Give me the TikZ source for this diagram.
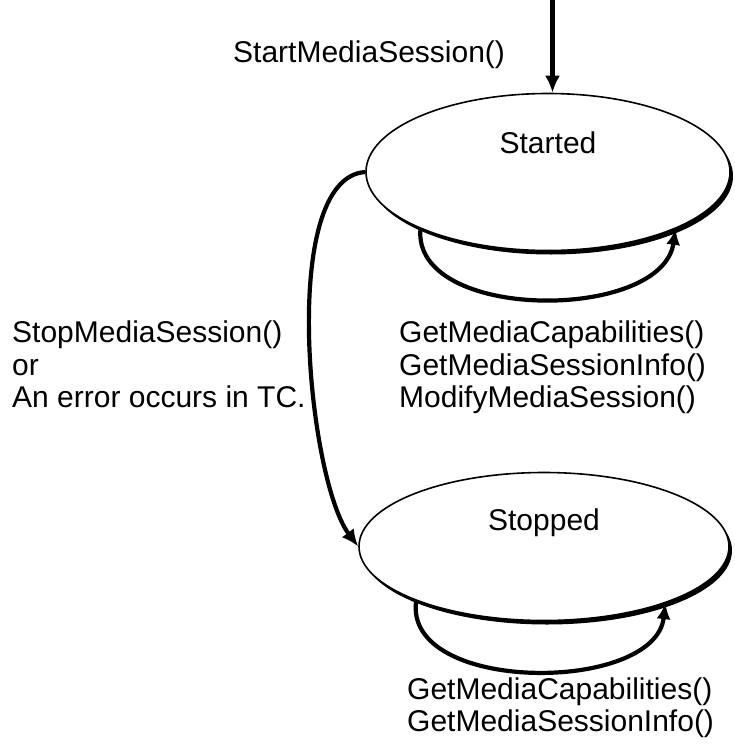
\documentclass[tikz,border=0pt]{standalone}
\usepackage{fontspec}
\setmainfont{Liberation Sans}
\usetikzlibrary{shapes.geometric,shadows,arrows.meta}
\begin{document}
\begin{tikzpicture}[x=1pt,y=-1pt,
  txt/.style={font=\fontsize{30}{32.5}\selectfont},
  state/.style={ellipse, draw, line width=1.6pt, fill=white, inner sep=0pt, txt,
    drop shadow={shadow xshift=3pt, shadow yshift=-4pt, fill=black, opacity=1}},
  conn/.style={line width=4.2pt, -{Latex[length=17pt,width=15pt]}},
  loopconn/.style={line width=4.2pt, -{Latex[length=16pt,width=14pt]}},
  lbl/.style={inner sep=0pt, align=left, anchor=north west, txt}]
\useasboundingbox (0,0) rectangle (734,744);

\node[state, minimum width=364pt, minimum height=157pt, text height=22pt, text depth=60pt] (started) at (548,172) {Started};
\node[state, minimum width=370pt, minimum height=148pt, text height=22pt, text depth=55pt] (stopped) at (544,546.5) {Stopped};

\coordinate (entry) at (552.5,0);
\draw[conn] (entry) -- (entry |- started.north);
\node[txt, inner sep=0pt, anchor=base west] (startlbl) at (233,62) {StartMediaSession()};

\draw[loopconn] (started.204) .. controls (412,322) and (662,322) .. (started.336);
\draw[loopconn] (stopped.203) .. controls (403,694) and (655,694) .. (stopped.335);
\draw[conn] (started.west) .. controls (278,178) and (308,480) .. (stopped.west);

\node[lbl] (stoplbl) at (12,321) {StopMediaSession()\\or\\An error occurs in TC.};
\node[lbl] (startops) at (399,321) {GetMediaCapabilities()\\GetMediaSessionInfo()\\ModifyMediaSession()};
\node[lbl] (stopops) at (407,677.5) {GetMediaCapabilities()\\GetMediaSessionInfo()};
\end{tikzpicture}
\end{document}
